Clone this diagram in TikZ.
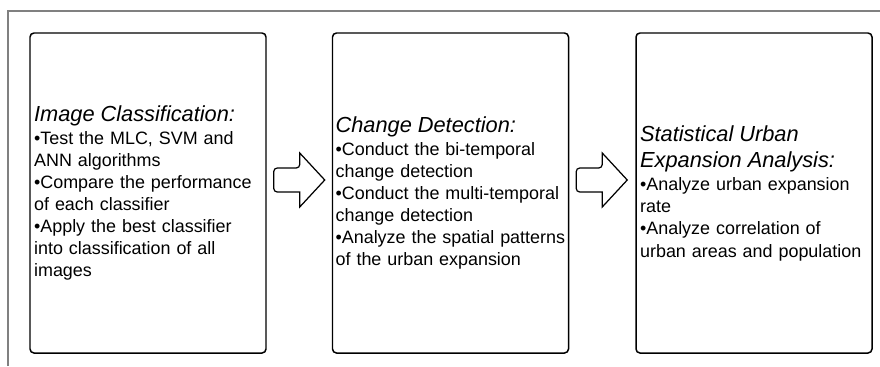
\documentclass[tikz,border=0pt]{standalone}
\usepackage{fontspec}
\setmainfont{Liberation Sans}
\usetikzlibrary{positioning,calc}

\newcommand{\titlefont}{\fontsize{12.4}{12.6}\selectfont\itshape}

\begin{document}
\begin{tikzpicture}[
    frame/.style={
        draw=black!50,
        line width=0.6pt
    },
    stage/.style={
        draw,
        rounded corners=0.08cm,
        line width=0.85pt,
        minimum width=4.72cm,
        minimum height=6.40cm,
        inner sep=0pt
    },
    stagetext/.style={
        align=left,
        text width=4.8cm,
        inner sep=0pt,
        font=\fontsize{10.2}{12.6}\selectfont
    },
    blockarrow/.style={
        draw,
        line width=0.7pt,
        line join=miter
    }
]

\useasboundingbox (0,0) rectangle (17.6,7.32);

% ------------------------------------------------
% Outer frame
% ------------------------------------------------

\draw[frame] (0.16,0) -- (0.16,7.10) -- (17.6,7.10);

% ------------------------------------------------
% Stages
% ------------------------------------------------

\node[stage] (cls) at (2.96, 3.46) {};
\node[stage] (cd) at (9.01, 3.46) {};
\node[stage] (stat) at (15.08, 3.46) {};

\node[stagetext, right=0.09cm of cls.west] (clstext)
    {{\titlefont Image Classification:}\\[0.5pt]
     •Test the MLC, SVM and\\
     ANN algorithms\\
     •Compare the performance\\
     of each classifier\\
     •Apply the best classifier\\
     into classification of all\\
     images};

\node[stagetext, right=0.07cm of cd.west] (cdtext)
    {{\titlefont Change Detection:}\\[0.5pt]
     •Conduct the bi-temporal\\
     change detection\\
     •Conduct the multi-temporal\\
     change detection\\
     •Analyze the spatial patterns\\
     of the urban expansion};

\node[stagetext, right=0.09cm of stat.west] (stattext)
    {{\titlefont Statistical Urban}\\[2.3pt]
     {\titlefont Expansion Analysis:}\\[0.7pt]
     •Analyze urban expansion\\
     rate\\
     •Analyze correlation of\\
     urban areas and population};

% ------------------------------------------------
% Block arrows between stages
% ------------------------------------------------

\coordinate (ar1) at ($(cls.east)+(0.14,0.26)$);
\coordinate (ar2) at ($(cd.east)+(0.14,0.26)$);

\foreach \a in {ar1,ar2}{
    \draw[blockarrow]
        (\a) [rounded corners=0.07cm] -- ++(0,0.24) -- ++(0.52,0)
        [sharp corners] -- ++(0,0.30) -- ++(0.50,-0.54)
        -- ++(-0.50,-0.54) -- ++(0,0.30)
        [rounded corners=0.07cm] -- ++(-0.52,0) -- (\a);
}

\end{tikzpicture}
\end{document}
